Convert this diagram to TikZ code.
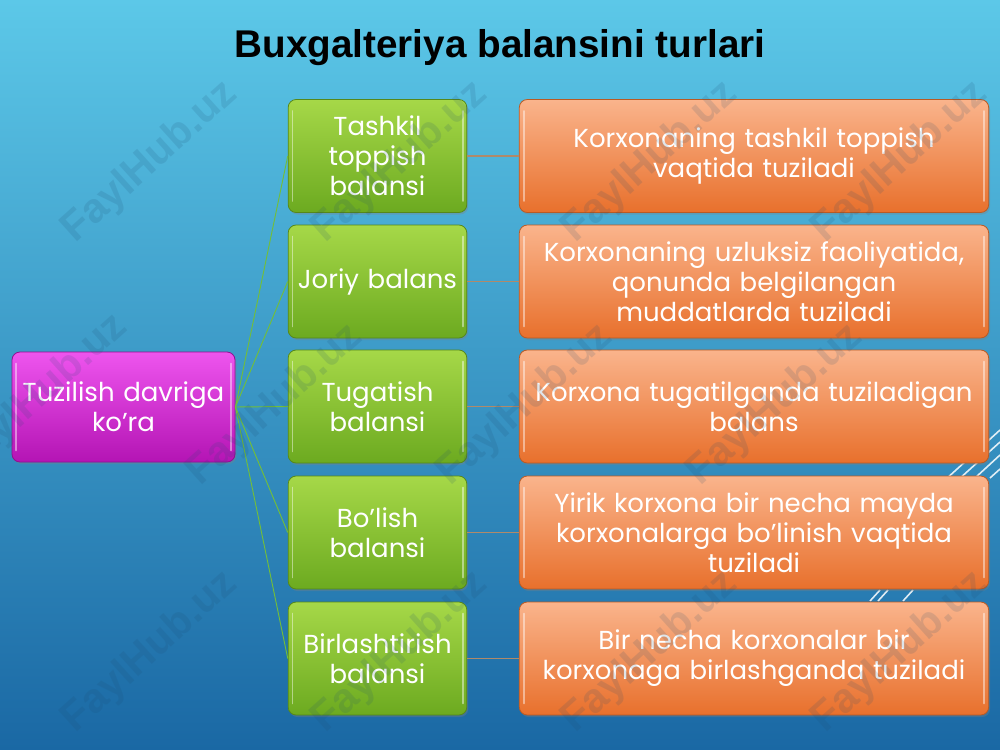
\documentclass[tikz,border=0pt]{standalone}
\usepackage{fontspec}
\setmainfont{Poppins}
\newfontfamily\titlefont{Liberation Sans}
\usetikzlibrary{shadows}
\definecolor{bgtop}{HTML}{5CC8E8}
\definecolor{bgbot}{HTML}{1A68A4}
\definecolor{magtop}{HTML}{EE55EE}
\definecolor{magbot}{HTML}{B414B4}
\definecolor{grntop}{HTML}{A6D848}
\definecolor{grnbot}{HTML}{6CAA20}
\definecolor{orgtop}{HTML}{FAB48C}
\definecolor{orgbot}{HTML}{E8702C}
\definecolor{linkgreen}{HTML}{72BE3A}
\definecolor{linkorange}{HTML}{B08A6A}
\definecolor{wmark}{HTML}{1C4A70}
\tikzset{
  boxbase/.style={rounded corners=6pt, align=center, text=white,
    font=\fontsize{19.5}{22.5}\selectfont, inner sep=2pt,
    drop shadow={shadow xshift=1pt, shadow yshift=-1.5pt, opacity=0.35}},
  magbox/.style={boxbase, draw=magbot!80!black, line width=0.6pt,
    top color=magtop, bottom color=magbot,
    minimum width=167.25pt, minimum height=82.5pt, text width=163pt},
  grnbox/.style={boxbase, draw=grnbot!80!black, line width=0.6pt,
    top color=grntop, bottom color=grnbot,
    minimum width=132.75pt, minimum height=84.75pt, text width=130pt},
  orgbox/.style={boxbase, draw=orgbot!80!black, line width=0.6pt,
    top color=orgtop, bottom color=orgbot,
    minimum width=351pt, minimum height=84.75pt, text width=348pt},
  glink/.style={linkgreen, line width=0.7pt},
  olink/.style={linkorange, line width=0.8pt},
  gloss/.style={white, line width=1.4pt, opacity=0.45, line cap=round},
  wm/.style={rotate=42, text=wmark, opacity=0.14,
    font=\titlefont\bfseries\fontsize{31}{31}\selectfont},
  stripe/.style={white, line width=1.2pt, opacity=0.85}
}
\begin{document}
\begin{tikzpicture}[x=0.75pt,y=-0.75pt]
\useasboundingbox (0,0) rectangle (1000,750);
\shade[top color=bgtop, bottom color=bgbot] (0,0) rectangle (1000,750);
% decorative stripes
\draw[stripe] (945,480) -- (1000,430);
\draw[stripe] (958,480) -- (1000,442);
\draw[stripe] (975,478) -- (1000,455);
\draw[stripe] (990,478) -- (1000,469);
\draw[stripe] (870,601) -- (880,590);
\draw[stripe] (878,601) -- (888,590);
\draw[stripe] (903,601) -- (913,590);
\draw[stripe] (840,650) -- (848,641);
\draw[stripe] (848,650) -- (856,641);
\draw[stripe] (876,650) -- (885,641);
% title
\node (title) at (500,48) {\titlefont\bfseries\fontsize{29}{32}\selectfont Buxgalteriya balansini turlari};
% nodes
\node[magbox] (root) at (123.5,407) {Tuzilish davriga\\ko’ra};
\node[grnbox] (g1) at (377.5,156) {Tashkil\\toppish\\balansi};
\node[grnbox] (g2) at (377.5,281.5) {Joriy balans};
\node[grnbox] (g3) at (377.5,406.5) {Tugatish\\balansi};
\node[grnbox] (g4) at (377.5,532.5) {Bo’lish\\balansi};
\node[grnbox] (g5) at (377.5,658.5) {Birlashtirish\\balansi};
\node[orgbox] (o1) at (754,156) {Korxonaning tashkil toppish\\vaqtida tuziladi};
\node[orgbox] (o2) at (754,281.5) {Korxonaning uzluksiz faoliyatida,\\qonunda belgilangan\\muddatlarda tuziladi};
\node[orgbox] (o3) at (754,406.5) {Korxona tugatilganda tuziladigan\\balans};
\node[orgbox] (o4) at (754,532.5) {Yirik korxona bir necha mayda\\korxonalarga bo’linish vaqtida\\tuziladi};
\node[orgbox] (o5) at (754,658.5) {Bir necha korxonalar bir\\korxonaga birlashganda tuziladi};
% gloss highlights
\foreach \n in {root,g1,g2,g3,g4,g5,o1,o2,o3,o4,o5} {
  \draw[gloss] ([xshift=3.5pt,yshift=-9pt]\n.north west) -- ([xshift=3.5pt,yshift=9pt]\n.south west);
  \draw[gloss] ([xshift=-3.5pt,yshift=-9pt]\n.north east) -- ([xshift=-3.5pt,yshift=9pt]\n.south east);
}
% connectors
\foreach \g in {g1,g2,g3,g4,g5}
  \draw[glink] (root.east) -- (\g.west);
\foreach \i in {1,...,5}
  \draw[olink] (g\i.east) -- (o\i.west);
% watermarks
\foreach \px/\py in {150/162,400/162,650/162,900/162,40/395,275/405,525/405,775/405,150/652,400/652,650/652,900/652}
  \node[wm] at (\px,\py) {FaylHub.uz};
\end{tikzpicture}
\end{document}
